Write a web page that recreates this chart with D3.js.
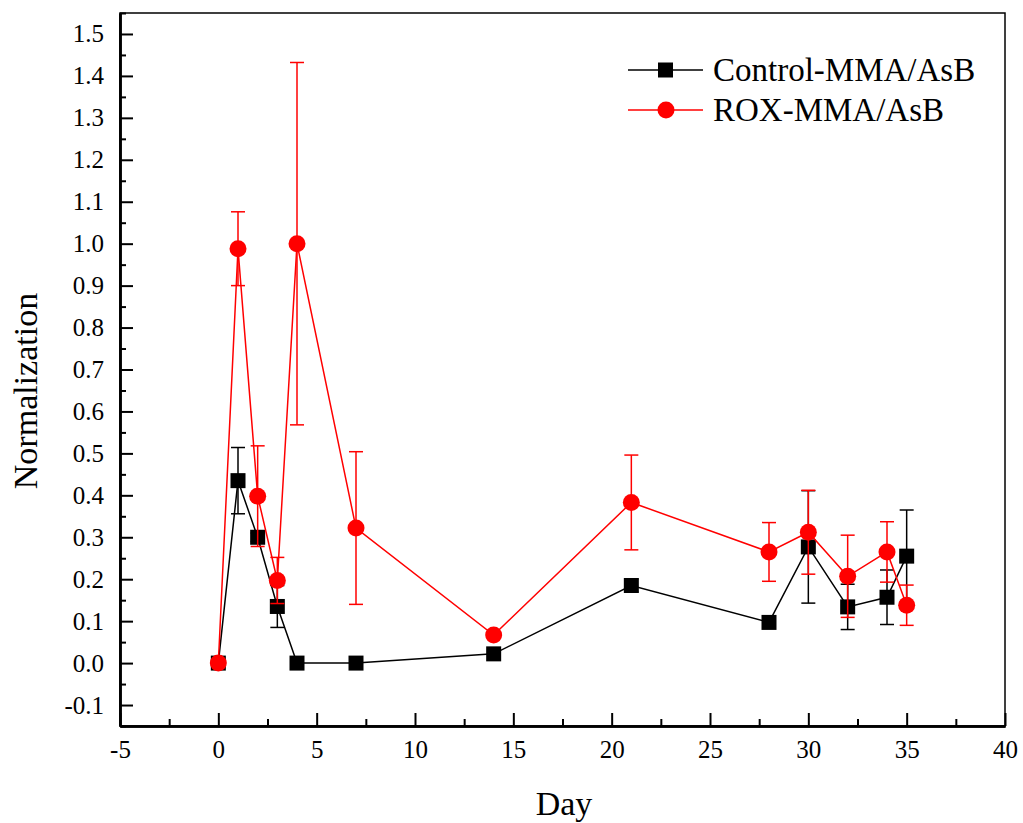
<!DOCTYPE html>
<html><head><meta charset="utf-8">
<script src="https://cdn.jsdelivr.net/npm/d3@7"></script>
<style>body{margin:0;background:#fff}svg{display:block}</style>
</head><body>
<svg id="c" width="1023" height="823"></svg>
<script>
const days = [0, 1, 2, 3, 4, 7, 14, 21, 28, 30, 32, 34, 35];
const controlVals = [0, 0.435, 0.30, 0.135, 0, 0, 0.022, 0.185, 0.097, 0.277, 0.134, 0.157, 0.255];
const controlErr  = [0, 0.079, 0.01, 0.05, 0, 0, 0, 0.015, 0.01, 0.134, 0.054, 0.065, 0.11];
const roxVals = [0, 0.988, 0.398, 0.197, 1.0, 0.322, 0.067, 0.383, 0.265, 0.312, 0.207, 0.265, 0.138];
const roxErr  = [0, 0.088, 0.12, 0.055, 0.432, 0.182, 0, 0.113, 0.07, 0.1, 0.098, 0.072, 0.048];
const xTicks = [-5, 0, 5, 10, 15, 20, 25, 30, 35, 40];
const yTicks = [-0.1, 0, 0.1, 0.2, 0.3, 0.4, 0.5, 0.6, 0.7, 0.8, 0.9, 1.0, 1.1, 1.2, 1.3, 1.4, 1.5];
const seriesNames = ["Control-MMA/AsB", "ROX-MMA/AsB"];

const svg = d3.select("#c");
const L = 120, R = 1005, T = 13, B = 726;
const x = d3.scaleLinear().domain([-5, 40]).range([L, R]);
const y = d3.scaleLinear().domain([-0.15, 1.55]).range([B, T]);
const font = "'Liberation Serif','Times New Roman',serif";
const hy = s => s.replace("\u2212", "-");

// frame
svg.append("rect").attr("x", L).attr("y", T).attr("width", R - L).attr("height", B - T)
  .attr("fill", "none").attr("stroke", "#000").attr("stroke-width", 1.5);

// x axis
const xMinor = d3.range(-5, 40.01, 2.5).filter(v => v % 5 !== 0);
const gx = svg.append("g").attr("transform", `translate(0,${B})`);
gx.call(d3.axisBottom(x).tickValues(xTicks).tickSize(-13).tickSizeOuter(0).tickPadding(14).tickFormat(d => hy(d3.format("d")(d))));
gx.append("g").call(d3.axisBottom(x).tickValues(xMinor).tickSize(-7).tickSizeOuter(0).tickFormat(""));
gx.selectAll(".domain").attr("stroke-width", 2.5);
gx.selectAll(".tick line").attr("stroke-width", 2);
gx.selectAll("text").attr("font-family", font).attr("font-size", 25).attr("fill", "#000");

// y axis
const yMinor = d3.range(-0.15, 1.551, 0.1).map(v => +v.toFixed(2));
const gy = svg.append("g").attr("transform", `translate(${L},0)`);
gy.call(d3.axisLeft(y).tickValues(yTicks).tickSize(-13).tickSizeOuter(0).tickPadding(16).tickFormat(d => hy(d3.format(".1f")(d))));
gy.append("g").call(d3.axisLeft(y).tickValues(yMinor).tickSize(-6).tickSizeOuter(0).tickFormat(""));
gy.selectAll(".domain").attr("stroke-width", 2.5);
gy.selectAll(".tick line").attr("stroke-width", 2);
gy.selectAll("text").attr("font-family", font).attr("font-size", 25).attr("fill", "#000");

// axis titles
svg.append("text").attr("x", 564).attr("y", 815).attr("text-anchor", "middle")
  .attr("font-family", font).attr("font-size", 34).text("Day");
svg.append("text").attr("transform", `translate(37,391) rotate(-90)`).attr("text-anchor", "middle")
  .attr("font-family", font).attr("font-size", 34).text("Normalization");

function drawSeries(vals, errs, color, shape) {
  const data = days.map((d, i) => ({d, v: vals[i], e: errs[i]}));
  const g = svg.append("g");
  g.append("path").datum(data)
    .attr("d", d3.line().x(p => x(p.d)).y(p => y(p.v)))
    .attr("fill", "none").attr("stroke", color).attr("stroke-width", 1.5);
  const eb = g.selectAll(".eb").data(data.filter(p => p.e > 0)).join("g");
  eb.append("line").attr("x1", p => x(p.d)).attr("x2", p => x(p.d))
    .attr("y1", p => y(p.v - p.e)).attr("y2", p => y(p.v + p.e)).attr("stroke", color).attr("stroke-width", 1.5);
  [1, -1].forEach(s => {
    eb.append("line").attr("x1", p => x(p.d) - 7).attr("x2", p => x(p.d) + 7)
      .attr("y1", p => y(p.v + s * p.e)).attr("y2", p => y(p.v + s * p.e)).attr("stroke", color).attr("stroke-width", 1.5);
  });
  if (shape === "square") {
    g.selectAll(".m").data(data).join("rect")
      .attr("x", p => x(p.d) - 7.5).attr("y", p => y(p.v) - 7.5).attr("width", 15).attr("height", 15).attr("fill", color);
  } else {
    g.selectAll(".m").data(data).join("circle")
      .attr("cx", p => x(p.d)).attr("cy", p => y(p.v)).attr("r", 8.5).attr("fill", color);
  }
}
drawSeries(controlVals, controlErr, "#000", "square");
drawSeries(roxVals, roxErr, "#ff0000", "circle");

// legend
const leg = svg.append("g");
[["#000", "square", 70], ["#ff0000", "circle", 110]].forEach(([c, s, ly], i) => {
  leg.append("line").attr("x1", 628).attr("x2", 703).attr("y1", ly).attr("y2", ly).attr("stroke", c).attr("stroke-width", 1.5);
  if (s === "square") leg.append("rect").attr("x", 658).attr("y", ly - 7.5).attr("width", 15).attr("height", 15).attr("fill", c);
  else leg.append("circle").attr("cx", 666).attr("cy", ly).attr("r", 8.5).attr("fill", c);
  leg.append("text").attr("x", 713).attr("y", ly + 11).attr("font-family", font).attr("font-size", 33).text(seriesNames[i]);
});
</script>
</body></html>
